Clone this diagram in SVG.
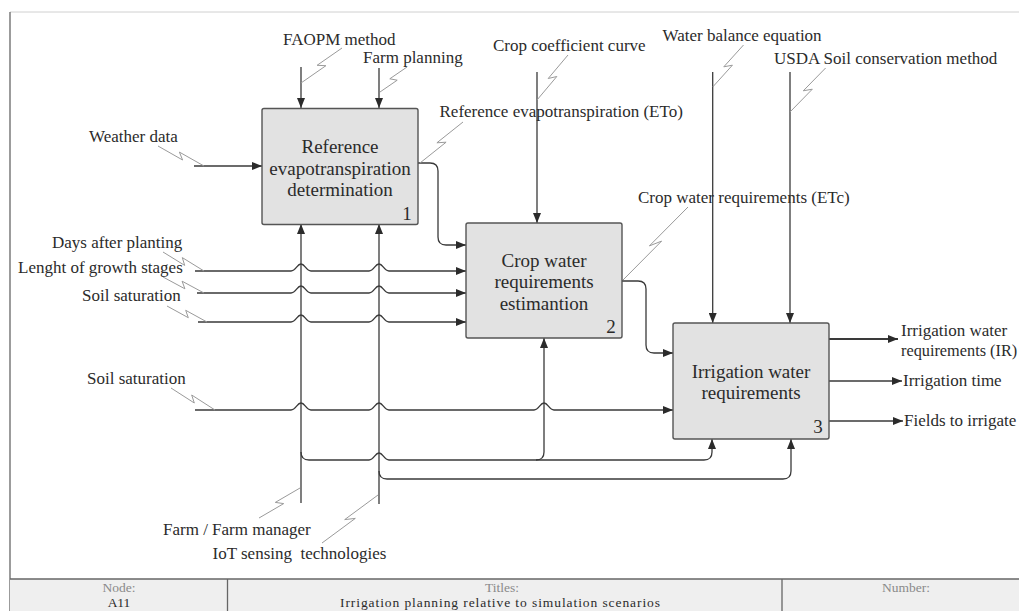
<svg xmlns="http://www.w3.org/2000/svg" width="1019" height="611" viewBox="0 0 1019 611">
<style>
text{font-family:"Liberation Serif","Times New Roman",serif;fill:#2b2b2b}
.lbl{font-size:17px}
.box{font-size:19px;text-anchor:middle}
.num{font-size:19px;text-anchor:middle}
.ft{font-size:13.5px;text-anchor:middle}
.ftg{fill:#8a8a8a}
.node rect{fill:#e2e2e2;stroke:#555;stroke-width:1.4}
.c{fill:none;stroke:#3a3a3a;stroke-width:1.3}
.c2{fill:none;stroke:#3a3a3a;stroke-width:2.2}
.sq{fill:none;stroke:#9a9a9a;stroke-width:1}
</style>
<defs>
<marker id="ah" markerUnits="userSpaceOnUse" markerWidth="10" markerHeight="8" refX="10" refY="4" orient="auto">
<path d="M0,0 L10,4 L0,8 z" fill="#2b2b2b"/>
</marker>
</defs>
<rect x="0" y="0" width="1019" height="611" fill="#fff"/>
<g id="frame">
<line x1="10" y1="12" x2="1019" y2="12" stroke="#d0d0d0" stroke-width="1"/>
<line x1="10" y1="12" x2="10" y2="611" stroke="#666" stroke-width="1.3"/>
</g>
<g id="connectors">
<path class="c" d="M301,67 V108" marker-end="url(#ah)"/>
<path class="c" d="M379,68 V108" marker-end="url(#ah)"/>
<path class="c" d="M194,166 H262" marker-end="url(#ah)"/>
<path class="c" d="M418,163 H430 Q438,163 438,171 V237 Q438,245 446,245 H466" marker-end="url(#ah)"/>
<path class="c" d="M537,72 V223" marker-end="url(#ah)"/>
<path class="c" d="M195,271 H291 C296,271 297,264 301,264 C305,264 306,271 311,271 H369 C374,271 375,264 379,264 C383,264 384,271 389,271 H466" marker-end="url(#ah)"/>
<path class="c" d="M197,293 H291 C296,293 297,286 301,286 C305,286 306,293 311,293 H369 C374,293 375,286 379,286 C383,286 384,293 389,293 H466" marker-end="url(#ah)"/>
<path class="c" d="M198,322 H291 C296,322 297,315 301,315 C305,315 306,322 311,322 H369 C374,322 375,315 379,315 C383,315 384,322 389,322 H466" marker-end="url(#ah)"/>
<path class="c" d="M195,410 H291 C296,410 297,403 301,403 C305,403 306,410 311,410 H369 C374,410 375,403 379,403 C383,403 384,410 389,410 H534 C539,410 540,403 544,403 C548,403 549,410 554,410 H673" marker-end="url(#ah)"/>
<path class="c" d="M622,281 H638 Q646,281 646,289 V345 Q646,353 654,353 H673" marker-end="url(#ah)"/>
<path class="c" d="M712.7,72 V323" marker-end="url(#ah)"/>
<path class="c" d="M790,72 V323" marker-end="url(#ah)"/>
<path class="c2" d="M829,339 H898" marker-end="url(#ah)"/>
<path class="c" d="M829,381 H902" marker-end="url(#ah)"/>
<path class="c" d="M829,421 H903" marker-end="url(#ah)"/>
<path class="c" d="M301,503 V224" marker-end="url(#ah)"/>
<path class="c" d="M379,504 V224" marker-end="url(#ah)"/>
<path class="c" d="M301,452 Q301,460 309,460 H369 C374,460 375,453 379,453 C383,453 384,460 389,460 H536 Q544,460 544,452 V338" marker-end="url(#ah)"/>
<path class="c" d="M536,460 H704 Q712,460 712,452 V439" marker-end="url(#ah)"/>
<path class="c" d="M379,471 Q379,479 387,479 H783 Q791,479 791,471 V439" marker-end="url(#ah)"/>
</g>
<g id="squiggles">
<path class="sq" d="M342,48 L317.1,65.3 L325.9,65.7 L301,83"/>
<path class="sq" d="M407,67 L389.8,78.8 L397.2,80.2 L380,92"/>
<path class="sq" d="M158,146 L182.6,160 L179.4,152.1 L204,166"/>
<path class="sq" d="M463,122 L436.9,142.8 L446.1,142.2 L420,163"/>
<path class="sq" d="M568,55 L548.2,78.5 L556.8,76.5 L537,100"/>
<path class="sq" d="M743.5,45 L723.8,66.8 L732.4,65.2 L712.7,87"/>
<path class="sq" d="M825.6,68 L803.3,90.8 L812.3,89.2 L790,112"/>
<path class="sq" d="M688,207 L649.4,245.9 L661.6,241.1 L623,280"/>
<path class="sq" d="M163,252 L184.7,265.4 L182.3,257.6 L204,271"/>
<path class="sq" d="M163,277 L184.9,288.8 L182.1,281.2 L204,293"/>
<path class="sq" d="M167,306 L188.3,317.7 L185.7,310.3 L207,322"/>
<path class="sq" d="M171,388 L194.3,403 L191.7,395 L215,410"/>
<path class="sq" d="M259,518 L283.7,503.6 L275.3,502.4 L300,488"/>
<path class="sq" d="M322,543 L355.3,518.4 L344.7,519.6 L378,495"/>
</g>
<g id="node1" class="node">
<rect x="262" y="108.5" width="156" height="116" rx="2"/>
<text class="box" x="340" y="153">Reference</text>
<text class="box" x="340" y="174.5">evapotranspiration</text>
<text class="box" x="340" y="196">determination</text>
<text class="num" x="407" y="220">1</text>
</g>
<g id="node2" class="node">
<rect x="466" y="223" width="156" height="115" rx="2"/>
<text class="box" x="544" y="267">Crop water</text>
<text class="box" x="544" y="288">requirements</text>
<text class="box" x="544" y="310">estimantion</text>
<text class="num" x="611" y="333">2</text>
</g>
<g id="node3" class="node">
<rect x="673" y="323" width="156" height="116" rx="2"/>
<text class="box" x="751" y="378">Irrigation water</text>
<text class="box" x="751" y="399">requirements</text>
<text class="num" x="818" y="433">3</text>
</g>
<g id="labels">
<text class="lbl" x="283" y="45">FAOPM method</text>
<text class="lbl" x="363" y="63">Farm planning</text>
<text class="lbl" x="89" y="142">Weather data</text>
<text class="lbl" x="439.5" y="117">Reference evapotranspiration (ETo)</text>
<text class="lbl" x="493" y="51">Crop coefficient curve</text>
<text class="lbl" x="662.5" y="41">Water balance equation</text>
<text class="lbl" x="774" y="64">USDA Soil conservation method</text>
<text class="lbl" x="638" y="203">Crop water requirements (ETc)</text>
<text class="lbl" x="52" y="248">Days after planting</text>
<text class="lbl" x="18" y="273">Lenght of growth stages</text>
<text class="lbl" x="82" y="301">Soil saturation</text>
<text class="lbl" x="87" y="384">Soil saturation</text>
<text class="lbl" x="163" y="535">Farm / Farm manager</text>
<text class="lbl" x="212.5" y="559" style="white-space:pre">IoT sensing  technologies</text>
<text class="lbl" x="901" y="336">Irrigation water</text>
<text class="lbl" x="901" y="356" style="font-size:16.3px">requirements (IR)</text>
<text class="lbl" x="903" y="386">Irrigation time</text>
<text class="lbl" x="904" y="426">Fields to irrigate</text>
</g>
<g id="footer">
<rect x="10" y="579" width="1009" height="32" fill="#efefef"/>
<line x1="10" y1="579" x2="1019" y2="579" stroke="#666" stroke-width="1.3"/>
<line x1="227.5" y1="579" x2="227.5" y2="611" stroke="#666" stroke-width="1.3"/>
<line x1="782" y1="579" x2="782" y2="611" stroke="#666" stroke-width="1.3"/>
<text class="ft ftg" x="119" y="592">Node:</text>
<text class="ft" x="119" y="607">A11</text>
<text class="ft ftg" x="502" y="592">Titles:</text>
<text class="ft" x="500" y="607" textLength="320" lengthAdjust="spacing">Irrigation planning relative to simulation scenarios</text>
<text class="ft ftg" x="906" y="592">Number:</text>
</g>
</svg>
